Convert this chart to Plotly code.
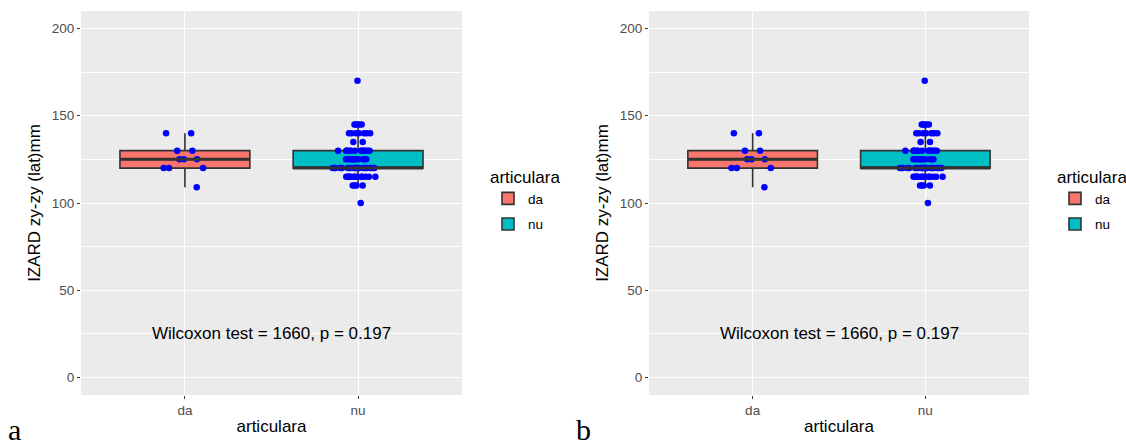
import statistics
import plotly.graph_objects as go

# ---- data ----
groups = ["da", "nu"]
da_values = [140, 140, 130, 130, 125, 125, 125, 120, 120, 120, 109]
nu_levels = [170, 145, 140, 135, 130, 125, 120, 115, 110, 100]
nu_counts = [1, 5, 7, 2, 14, 10, 24, 13, 4, 1]
nu_values = [v for v, c in zip(nu_levels, nu_counts) for _ in range(c)]
fill_colors = {"da": "#F8766D", "nu": "#00BFC4"}
y_ticks = [0, 50, 100, 150, 200]
test_label = "Wilcoxon test = 1660, p = 0.197"
panel_labels = ["a", "b"]

FONT = "Liberation Sans, Arial, sans-serif"
SERIF = "Liberation Serif, Times New Roman, serif"
W, H = 1126, 445
ML, MR, MT, MB = 81, 97, 11, 50
PW = W - ML - MR
PH = H - MT - MB
BOXW = 0.75

fig = go.Figure()
data = {"da": da_values, "nu": nu_values}

for p in range(2):
    xa = "x" if p == 0 else "x2"
    ya = "y" if p == 0 else "y2"
    leg = "legend" if p == 0 else "legend2"
    for gi, g in enumerate(groups):
        fig.add_trace(go.Box(
            x=[g] * len(data[g]), y=data[g], name=g,
            xaxis=xa, yaxis=ya, legend=leg, legendgroup=f"{g}{p}",
            boxpoints="all", jitter=0.42, pointpos=0,
            width=BOXW, whiskerwidth=0,
            fillcolor=fill_colors[g],
            line=dict(color="#333333", width=1.6),
            marker=dict(color="#0000FF", size=6.5, line=dict(width=0)),
        ))
        # thicker median bar as in ggplot (fatten = 2)
        med = statistics.median(data[g])
        fig.add_shape(type="line", xref=xa, yref=ya,
                      x0=gi - BOXW / 2, x1=gi + BOXW / 2, y0=med, y1=med,
                      line=dict(color="#333333", width=3), layer="above")

panel_domains = [[0, 381 / PW], [(649 - ML) / PW, 1]]

axis_common = dict(
    showline=False, ticks="outside", ticklen=3, tickwidth=1.2, tickcolor="#333333",
    tickfont=dict(family=FONT, size=13.5, color="#4D4D4D"),
    gridcolor="#FFFFFF", gridwidth=1.1, zeroline=False,
)

for p in range(2):
    sfx = "" if p == 0 else "2"
    fig.update_layout(**{
        "xaxis" + sfx: dict(
            axis_common, domain=panel_domains[p], anchor="y" + sfx,
            type="category", categoryorder="array", categoryarray=groups,
            range=[-0.6, 1.6],
            title=dict(text="articulara", font=dict(family=FONT, size=17, color="#000000"),
                       standoff=2),
        ),
        "yaxis" + sfx: dict(
            axis_common, domain=[0, 1], anchor="x" + sfx,
            range=[-10, 210], tickvals=y_ticks,
            minor=dict(dtick=25, tick0=0, showgrid=True, gridcolor="#FFFFFF", gridwidth=0.5),
            title=dict(text="IZARD zy-zy (lat)mm", font=dict(family=FONT, size=17, color="#000000"),
                       standoff=6),
        ),
    })
    fig.add_annotation(
        xref="x" + sfx, yref="y" + sfx, x=0.5, y=25, text=test_label,
        showarrow=False, font=dict(family=FONT, size=17, color="#000000"),
    )
    fig.add_annotation(
        xref="paper", yref="paper",
        x=(6 - ML) / PW if p == 0 else (574 - ML) / PW,
        y=(H - MB - H - 3) / PH, xanchor="left", yanchor="bottom",
        text=panel_labels[p], showarrow=False,
        font=dict(family=SERIF, size=30, color="#000000"),
    )

legend_common = dict(
    xanchor="left", yanchor="top",
    title=dict(text="articulara", font=dict(family=FONT, size=17, color="#000000")),
    font=dict(family=FONT, size=13.5, color="#000000"),
    bgcolor="rgba(0,0,0,0)", tracegroupgap=5,
)
fig.update_layout(
    width=W, height=H,
    margin=dict(l=ML, r=MR, t=MT, b=MB, autoexpand=False),
    paper_bgcolor="#FFFFFF", plot_bgcolor="#EBEBEB",
    showlegend=True, boxmode="overlay",
    legend=dict(legend_common, x=(488 - ML) / PW, y=(H - MB - 161) / PH),
    legend2=dict(legend_common, x=(1055 - ML) / PW, y=(H - MB - 161) / PH),
    font=dict(family=FONT),
)

fig.write_html("out.html", config={"displayModeBar": False},
               post_script="document.body.style.margin='0px';")
